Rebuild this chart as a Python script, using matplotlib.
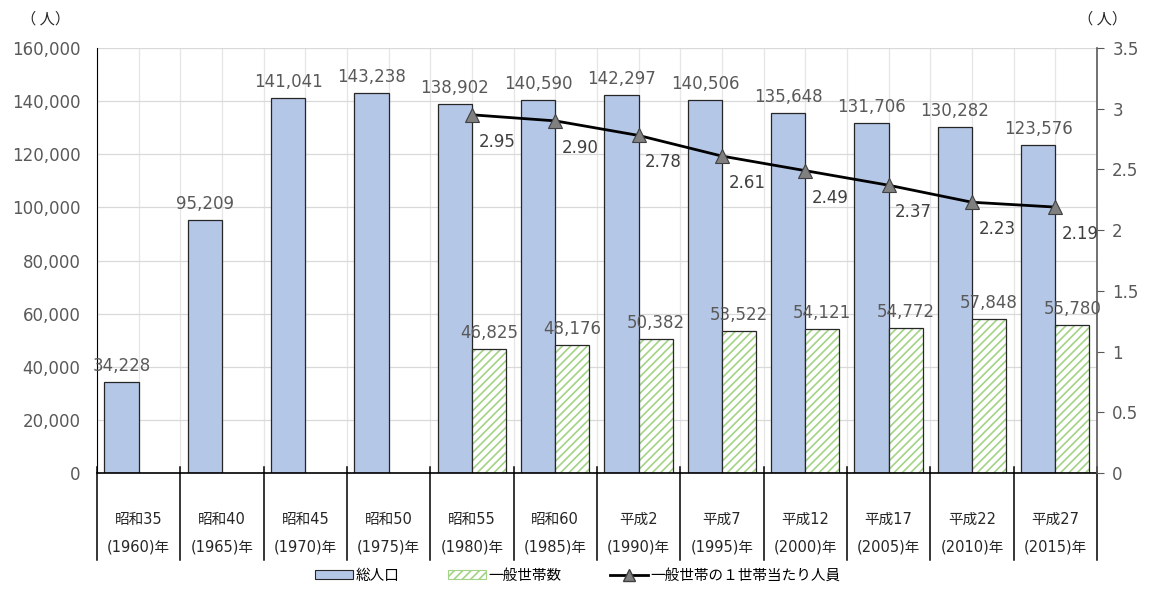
import matplotlib
matplotlib.use("Agg")
import matplotlib.pyplot as plt
from matplotlib.patches import Patch
from matplotlib.lines import Line2D
from matplotlib.ticker import FuncFormatter, MultipleLocator
import matplotlib.transforms as mtransforms

plt.rcParams["font.family"] = ["DejaVu Sans", "Noto Sans CJK JP"]
plt.rcParams["hatch.linewidth"] = 1.2

era_labels = ["昭和35", "昭和40", "昭和45", "昭和50", "昭和55", "昭和60",
              "平成2", "平成7", "平成12", "平成17", "平成22", "平成27"]
year_labels = ["(1960)年", "(1965)年", "(1970)年", "(1975)年", "(1980)年", "(1985)年",
               "(1990)年", "(1995)年", "(2000)年", "(2005)年", "(2010)年", "(2015)年"]
population = [34228, 95209, 141041, 143238, 138902, 140590,
              142297, 140506, 135648, 131706, 130282, 123576]
households = [46825, 48176, 50382, 53522, 54121, 54772, 57848, 55780]   # from 1980
per_household = [2.95, 2.90, 2.78, 2.61, 2.49, 2.37, 2.23, 2.19]        # from 1980
first_hh = 4  # index of 1980

BLUE = "#b4c7e7"
GREEN = "#a3d385"
GRAY_TXT = "#595959"
NUM_FS = 12

fig = plt.figure(figsize=(11.49, 5.90), dpi=100)
ax = fig.add_axes([0.0844, 0.1983, 0.8703, 0.7203])
ax2 = ax.twinx()

n = len(population)
xs = list(range(n))
w = 0.41
hx = xs[first_hh:]

# grid
ax.set_axisbelow(True)
for k in range(2 * n + 1):
    ax.axvline(-0.5 + k * 0.5, color="#e6e6e6", lw=0.9, zorder=0)
ax.yaxis.grid(True, color="#d9d9d9", lw=0.9)

# bars
ax.bar([x - w / 2 for x in xs], population, width=w, color=BLUE,
       edgecolor="#262626", lw=0.9, zorder=2)
ax.bar([x + w / 2 for x in hx], households, width=w, color="white",
       edgecolor=GREEN, hatch="////", lw=0, zorder=2)
ax.bar([x + w / 2 for x in hx], households, width=w, fill=False,
       edgecolor="#262626", lw=0.9, zorder=2.5)

for x, v in zip(xs, population):
    ax.annotate(f"{v:,}", (x - w / 2, v), xytext=(0, 11), textcoords="offset pixels",
                ha="center", va="baseline", fontsize=NUM_FS, color=GRAY_TXT, zorder=5)
for x, v in zip(hx, households):
    ax.annotate(f"{v:,}", (x + w / 2, v), xytext=(0, 11), textcoords="offset pixels",
                ha="center", va="baseline", fontsize=NUM_FS, color=GRAY_TXT, zorder=5)

ax.set_xlim(-0.5, n - 0.5)
ax.set_ylim(0, 160000)
ax.yaxis.set_major_locator(MultipleLocator(20000))
ax.yaxis.set_major_formatter(FuncFormatter(lambda v, p: f"{int(v):,}"))
ax.set_xticks([])
ax.tick_params(axis="y", length=0, labelsize=NUM_FS, labelcolor=GRAY_TXT, pad=12)

# line on right axis
ax2.plot(hx, per_household, color="black", lw=2, marker="^", ms=10,
         mfc="#808080", mec="#404040", mew=0.8, zorder=6)
for x, v in zip(hx, per_household):
    ax2.annotate(f"{v:.2f}", (x, v), xytext=(25, -27), textcoords="offset pixels",
                 ha="center", va="center", fontsize=NUM_FS, color="#404040", zorder=7)
ax2.set_ylim(0, 3.5)
ax2.yaxis.set_major_locator(MultipleLocator(0.5))
ax2.yaxis.set_major_formatter(FuncFormatter(lambda v, p: f"{v:g}"))
ax2.tick_params(axis="y", direction="out", length=5, color="#595959",
                labelsize=NUM_FS, labelcolor=GRAY_TXT, pad=6)
ax2.set_zorder(ax.get_zorder() + 1)
ax2.patch.set_visible(False)

for a in (ax, ax2):
    a.spines["top"].set_visible(False)
ax.spines["left"].set_color("black")
ax.spines["bottom"].set_color("black")
ax.spines["bottom"].set_linewidth(1.2)
ax.spines["right"].set_visible(False)
ax2.spines["left"].set_visible(False)
ax2.spines["bottom"].set_visible(False)
ax2.spines["right"].set_color("#595959")
ax2.spines["right"].set_linewidth(1.2)

# two-level category axis
trans = mtransforms.blended_transform_factory(ax.transData, ax.transAxes)
for k in range(n + 1):
    ax.plot([k - 0.5, k - 0.5], [0.014, -0.205], color="black", lw=1.1,
            transform=trans, clip_on=False, zorder=3)
for x, e, y in zip(xs, era_labels, year_labels):
    ax.text(x, -0.11, e, transform=trans, ha="center", va="center", fontsize=10.5, color="#262626")
    ax.text(x, -0.175, y, transform=trans, ha="center", va="center", fontsize=10.5, color="#262626")

# unit labels
fig.text(0.040, 0.968, "（ 人）", ha="center", va="center", fontsize=11, color="#262626",
         family=["Noto Sans CJK JP"])
fig.text(0.960, 0.968, "（ 人）", ha="center", va="center", fontsize=11, color="#262626",
         family=["Noto Sans CJK JP"])

handles = [
    Patch(facecolor=BLUE, edgecolor="#262626", lw=0.8),
    Patch(facecolor="white", edgecolor=GREEN, hatch="////", lw=0.8),
    Line2D([], [], color="black", lw=2, marker="^", ms=8, mfc="#808080", mec="#404040"),
]
labels = ["総人口", "一般世帯数", "一般世帯の１世帯当たり人員"]
fig.legend(handles, labels, loc="center", bbox_to_anchor=(0.503, 0.025), ncol=3,
           frameon=False, handlelength=2.6, handleheight=0.55,
           handletextpad=0.2, columnspacing=3.3,
           prop={"family": ["DejaVu Sans", "Noto Sans CJK JP"], "size": 10.5})

fig.savefig("out.png", dpi=100)
